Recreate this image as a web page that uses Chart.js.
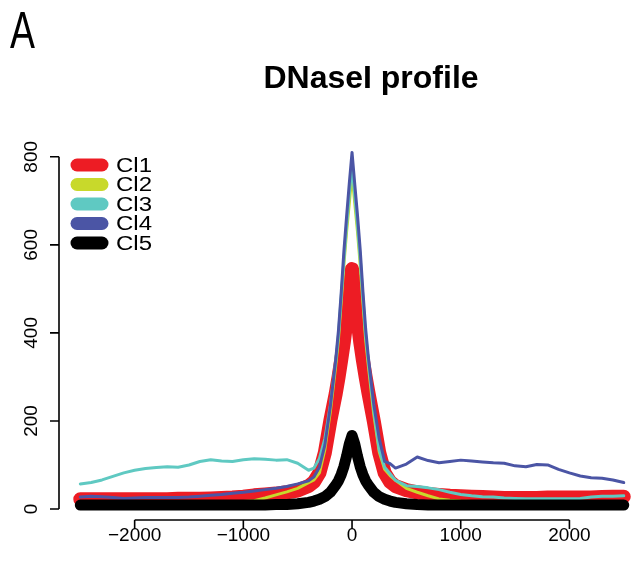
<!DOCTYPE html>
<html>
<head>
<meta charset="utf-8">
<script src="https://cdn.jsdelivr.net/npm/chart.js@4.4.1/dist/chart.umd.min.js"></script>
<style>
  html, body { margin: 0; padding: 0; background: #fff; }
  #wrap { width: 633px; height: 569px; position: relative; }
</style>
</head>
<body>
<div id="wrap"><canvas id="profileChart" width="633" height="569"></canvas></div>
<script>
// ==========================================
// 1. DATA
// ==========================================
const positions = [
  -2500, -2400, -2300, -2200, -2100, -2000, -1900, -1800, -1700, -1600, -1500,
  -1400, -1300, -1200, -1100, -1000, -900, -800, -700, -600, -500,
  -400, -350, -300, -250, -200, -150, -125, -100, -75, -50, -25,
  0,
  25, 50, 75, 100, 125, 150, 200, 250, 300, 350, 400,
  500, 600, 700, 800, 900, 1000, 1100, 1200, 1300, 1400, 1500,
  1600, 1700, 1800, 1900, 2000, 2100, 2200, 2300, 2400, 2500
];

const cl1 = [
  22, 22, 22, 22, 22, 22, 22, 22, 22, 23, 23,
  23, 24, 25, 26, 28, 31, 33, 35, 38, 42,
  52, 62, 82, 128, 200, 262, 298, 338, 380, 430, 500,
  545,
  500, 430, 380, 338, 300, 265, 200, 128, 82, 62, 52,
  43, 38, 34, 32, 30, 29, 28, 27, 26, 25, 25,
  25, 25, 26, 26, 26, 26, 26, 27, 28, 28
];

const cl2 = [
  15, 15, 15, 15, 15, 15, 15, 15, 15, 15, 15,
  15, 15, 15, 16, 17, 19, 25, 32, 39, 47,
  60, 66, 82, 135, 220, 325, 385, 470, 555, 630, 695,
  760,
  695, 630, 555, 470, 385, 325, 215, 130, 90, 76, 65,
  47, 38, 30, 23, 20, 18, 17, 16, 16, 16, 16,
  16, 16, 16, 16, 16, 16, 16, 16, 16, 16
];

const cl3 = [
  57, 60, 66, 74, 82, 88, 92, 94, 96, 95, 100,
  108, 112, 109, 108, 112, 114, 113, 111, 112, 104,
  88, 93, 115, 160, 235, 335, 395, 480, 565, 645, 715,
  780,
  712, 645, 570, 480, 395, 335, 225, 135, 95, 80, 65,
  53, 51, 48, 44, 38, 33, 30, 28, 27, 25, 24,
  23, 23, 23, 23, 23, 24, 27, 29, 29, 30
];

const cl4 = [
  27, 29, 28, 26, 24, 25, 26, 26, 26, 26, 27,
  29, 31, 33, 36, 38, 41, 44, 47, 51, 57,
  64, 73, 95, 145, 232, 340, 405, 490, 585, 665, 740,
  810,
  738, 668, 590, 495, 410, 345, 238, 160, 108, 103, 93,
  102, 118, 110, 105, 108, 111, 109, 107, 105, 104, 98,
  96, 101, 100, 90, 82, 75, 71, 70, 66, 60
];

const cl5 = [
  9, 9, 9, 9, 9, 9, 9, 9, 9, 9, 9,
  9, 9, 9, 9, 9, 9, 9, 10, 10, 12,
  15, 18, 22, 28, 38, 54, 64, 78, 96, 120, 148,
  167,
  148, 120, 96, 78, 64, 54, 38, 28, 22, 18, 15,
  12, 10, 9, 9, 9, 9, 9, 9, 9, 9, 9,
  9, 9, 9, 9, 9, 9, 9, 9, 9, 9
];

const seriesNames = ['Cl1', 'Cl2', 'Cl3', 'Cl4', 'Cl5'];
const seriesColors = ['#ed1c24', '#c8d92b', '#5fc9c2', '#4b55a5', '#000000'];
const seriesWidths = [14, 3, 3, 3, 11];
const seriesValues = [cl1, cl2, cl3, cl4, cl5];

const xTicks = [-2000, -1000, 0, 1000, 2000];
const yTicks = [0, 200, 400, 600, 800];

// ==========================================
// 2. AXES / TITLE / LEGEND PLUGIN (R base style)
// ==========================================
const FONT = '"Liberation Sans", Arial, Helvetica, sans-serif';

const rStyle = {
  id: 'rStyle',
  afterDraw(chart) {
    const c = chart.ctx;
    const xs = chart.scales.x;
    const ys = chart.scales.y;
    const area = chart.chartArea;

    c.save();
    c.strokeStyle = '#000';
    c.fillStyle = '#000';
    c.lineWidth = 1.6;
    c.lineCap = 'butt';

    // y axis
    const yx = area.left;
    c.beginPath();
    c.moveTo(yx, ys.getPixelForValue(yTicks[0]));
    c.lineTo(yx, ys.getPixelForValue(yTicks[yTicks.length - 1]));
    yTicks.forEach(v => {
      const py = ys.getPixelForValue(v);
      c.moveTo(yx, py);
      c.lineTo(yx - 9, py);
    });
    c.stroke();

    c.font = '19px ' + FONT;
    c.textAlign = 'center';
    c.textBaseline = 'middle';
    yTicks.forEach(v => {
      const py = ys.getPixelForValue(v);
      c.save();
      c.translate(32, py);
      c.rotate(-Math.PI / 2);
      c.fillText(String(v), 0, 0);
      c.restore();
    });

    // x axis
    const xy = area.bottom;
    c.beginPath();
    c.moveTo(xs.getPixelForValue(xTicks[0]), xy);
    c.lineTo(xs.getPixelForValue(xTicks[xTicks.length - 1]), xy);
    xTicks.forEach(v => {
      const px = xs.getPixelForValue(v);
      c.moveTo(px, xy);
      c.lineTo(px, xy + 9);
    });
    c.stroke();

    xTicks.forEach(v => {
      const label = v < 0 ? '\u2212' + Math.abs(v) : String(v);
      c.fillText(label, xs.getPixelForValue(v), xy + 16);
    });

    // title
    c.font = 'bold 32px ' + FONT;
    c.textBaseline = 'alphabetic';
    c.fillText('DNaseI profile', 371, 88);

    // panel letter
    c.save();
    c.font = '52px ' + FONT;
    c.textAlign = 'left';
    c.translate(10, 48);
    c.scale(0.72, 1);
    c.fillText('A', 0, 0);
    c.restore();

    // legend
    c.lineCap = 'round';
    seriesNames.forEach((name, i) => {
      const ly = 165 + i * 19.5;
      c.strokeStyle = seriesColors[i];
      c.lineWidth = 13;
      c.beginPath();
      c.moveTo(77, ly);
      c.lineTo(102, ly);
      c.stroke();
      c.save();
      c.fillStyle = '#000';
      c.font = '20px ' + FONT;
      c.textAlign = 'left';
      c.textBaseline = 'middle';
      c.translate(116, ly + 1);
      c.scale(1.2, 1);
      c.fillText(name, 0, 0);
      c.restore();
    });

    c.restore();
  }
};

// ==========================================
// 3. CHART
// ==========================================
const ctx = document.getElementById('profileChart').getContext('2d');

const drawOrder = [5, 4, 3, 2, 1]; // Cl1 at the bottom, Cl5 on top

const profileChart = new Chart(ctx, {
  type: 'line',
  data: {
    datasets: seriesNames.map((name, i) => ({
      label: name,
      data: positions.map((x, k) => ({ x: x, y: seriesValues[i][k] })),
      borderColor: seriesColors[i],
      backgroundColor: seriesColors[i],
      borderWidth: seriesWidths[i],
      borderCapStyle: 'round',
      borderJoinStyle: 'round',
      pointRadius: 0,
      tension: 0,
      fill: false,
      clip: false,
      order: drawOrder[i]
    }))
  },
  options: {
    responsive: false,
    devicePixelRatio: 1,
    animation: false,
    layout: { padding: { left: 59, right: 0, top: 137, bottom: 49 } },
    scales: {
      x: { type: 'linear', min: -2696, max: 2585, display: false },
      y: { type: 'linear', min: -25, max: 845, display: false }
    },
    plugins: {
      legend: { display: false },
      title: { display: false },
      tooltip: { enabled: false }
    }
  },
  plugins: [rStyle]
});
</script>
</body>
</html>
